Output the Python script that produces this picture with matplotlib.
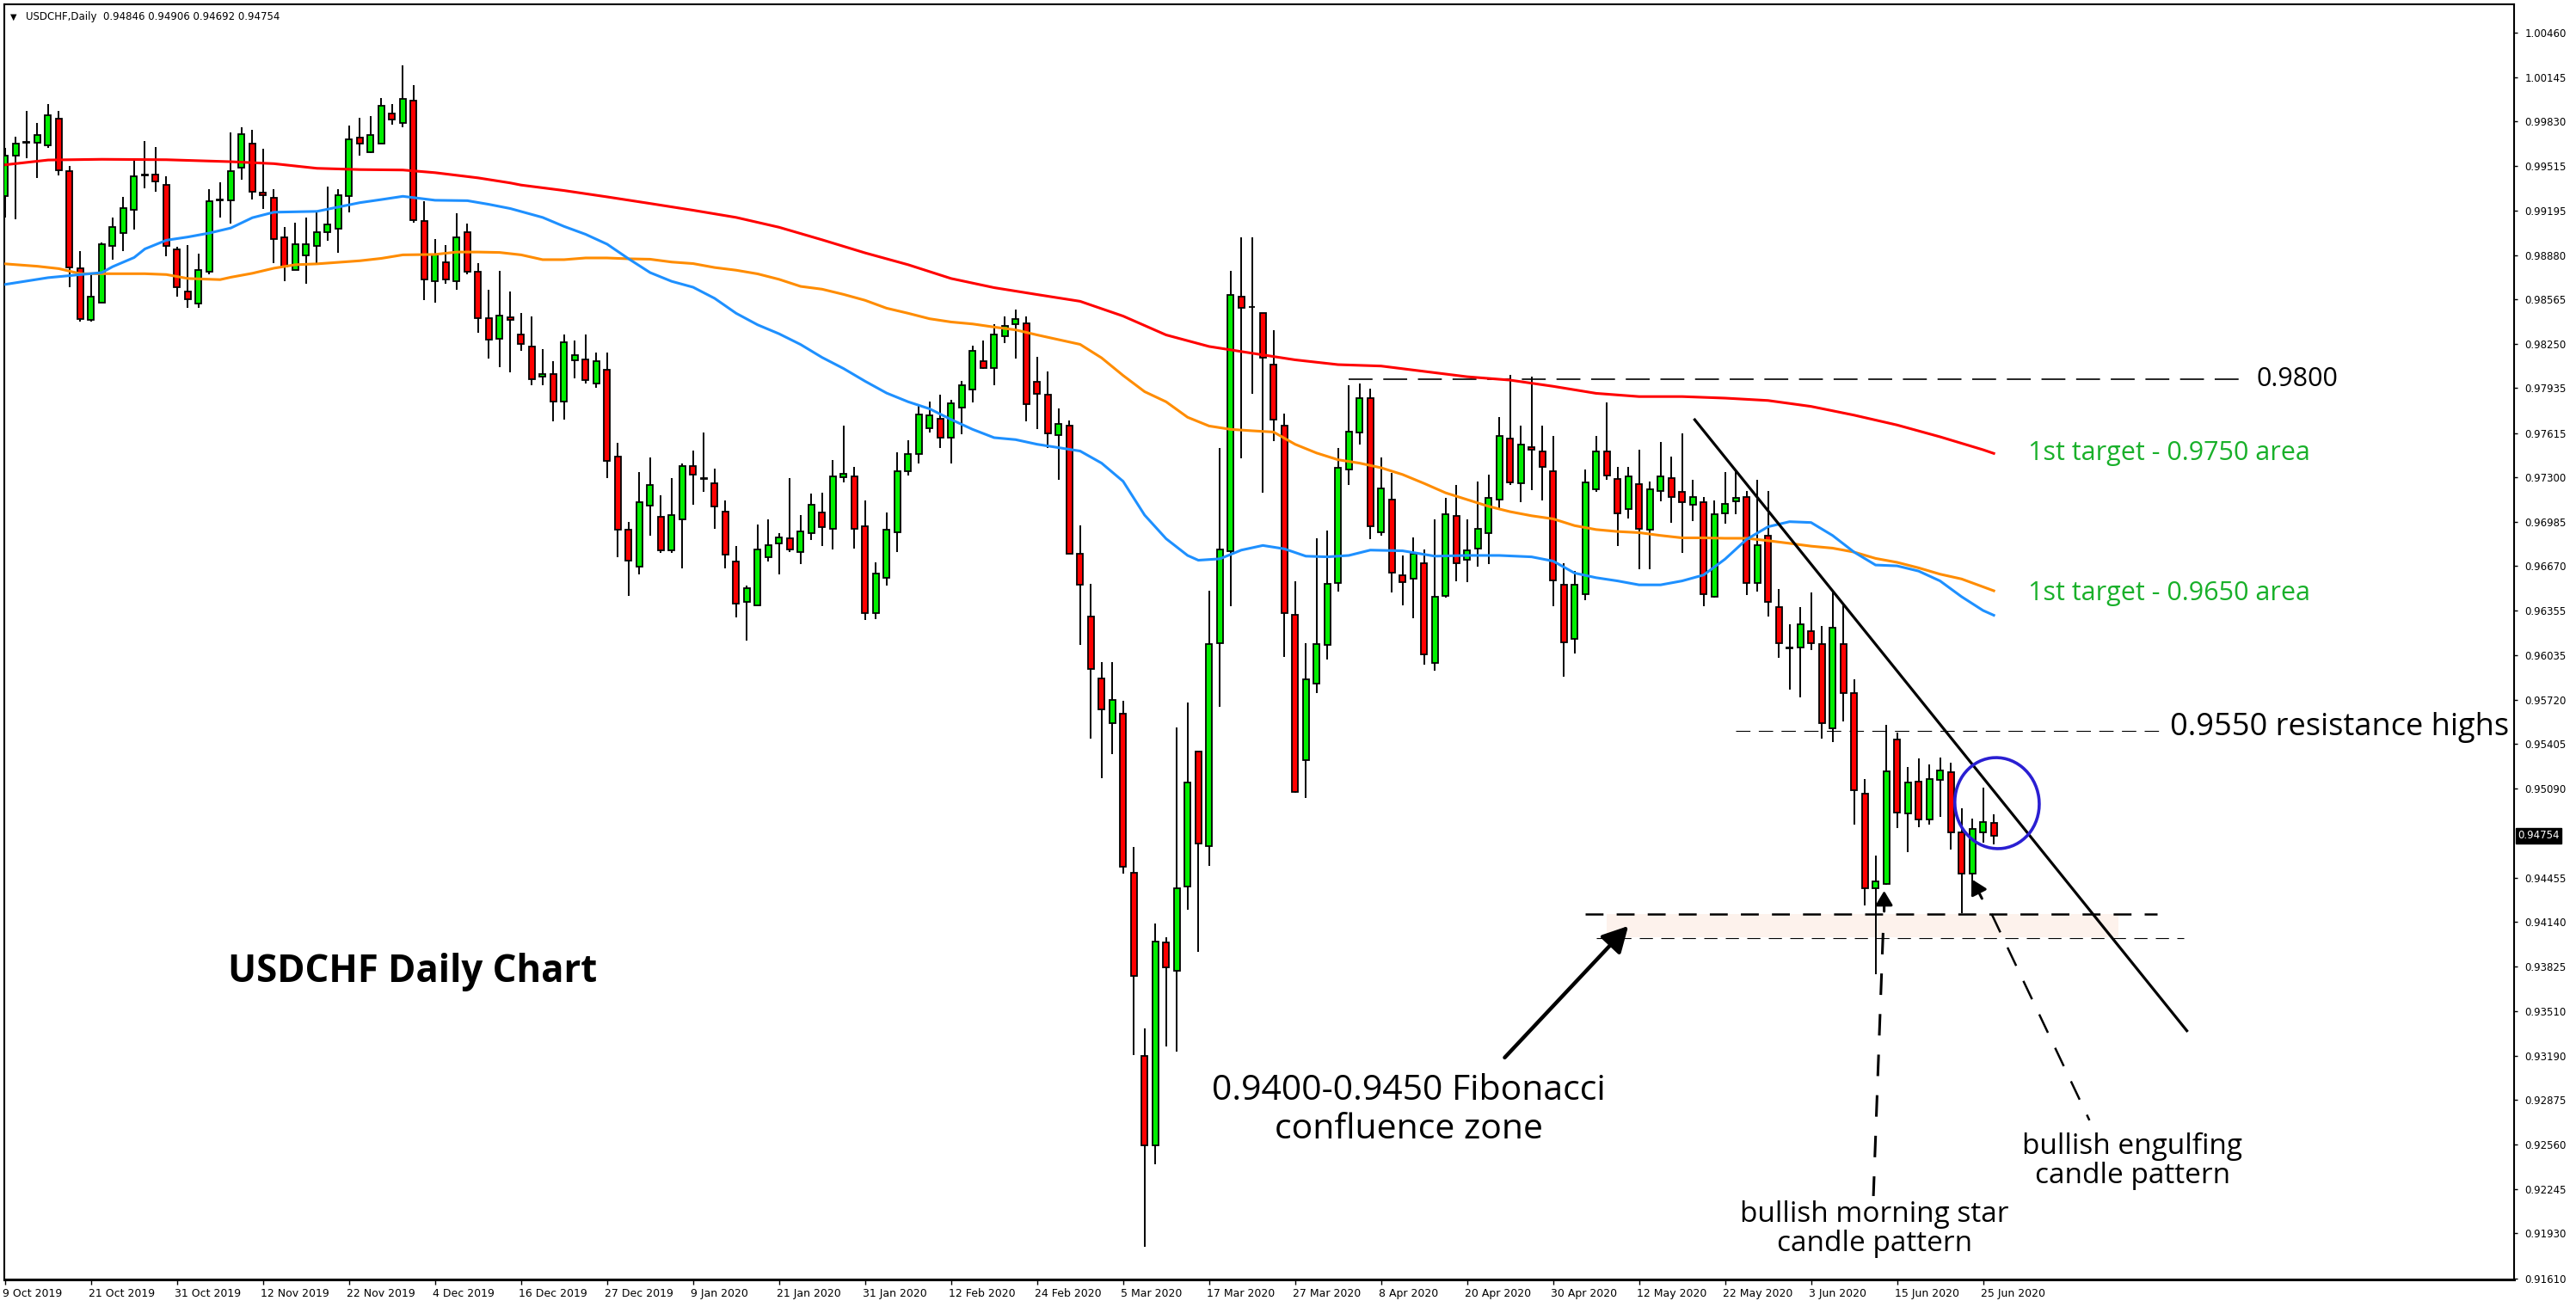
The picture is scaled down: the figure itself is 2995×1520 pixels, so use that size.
import matplotlib
matplotlib.use("Agg")
import matplotlib.pyplot as plt
from matplotlib import transforms
from matplotlib.patches import Ellipse
import numpy as np

plt.rcParams['lines.scale_dashes'] = False

# daily candles 9 Oct 2019 .. 26 Jun 2020
opens = [
    .99298, .99584, .99679, .99679, .99659, .99850, .99480, .98784, .98420, .98543,
    .98947, .99040, .99202, .99449, .99452, .99382, .98924, .98619, .98535, .98762,
    .99270, .99270, .99500, .99671, .99323, .99289, .99006, .98776, .98880, .98947,
    .99042, .99068, .99298, .99718, .99609, .99671, .99884, .99822, .99976, .99121,
    .98694, .98832, .98694, .99042, .98765, .98431, .98285, .98439, .98315, .98228,
    .98018, .98038, .97838, .98133, .98141, .97970, .98068, .97449, .96932, .96666,
    .97101, .97019, .96784, .97003, .97381, .97289, .97258, .97059, .96700, .96416,
    .96394, .96731, .96834, .96865, .96773, .96904, .97050, .96938, .97303, .97306,
    .96952, .96338, .96587, .96910, .97342, .97465, .97653, .97715, .97580, .97799,
    .97925, .98125, .98077, .98304, .98388, .98394, .97982, .97886, .97603, .97666,
    .96760, .96309, .95873, .95557, .95624, .94493, .93189, .92552, .93999, .93793,
    .94392, .95351, .94680, .96122, .96779, .98586, .98509, .98466, .98102, .97666,
    .96324, .95293, .95835, .96113, .96549, .97354, .97618, .97867, .96913, .97143,
    .96607, .96578, .96693, .95979, .96458, .97028, .96717, .96793, .96904, .97143,
    .97575, .97258, .97517, .97488, .97345, .96535, .96156, .96473, .97219, .97485,
    .97292, .97073, .97255, .96930, .97202, .97295, .97199, .97104, .97124, .96453,
    .97048, .97132, .97163, .96551, .96885, .96377, .96088, .96091, .96209, .96114,
    .95519, .96114, .95766, .95051, .94383, .94411, .95438, .94910, .95140, .94868,
    .95149, .95205, .94776, .94487, .94776, .94846]
highs = [
    .99640, .99721, .99906, .99822, .99954, .99906, .99511, .98910, .98751, .98972,
    .99146, .99295, .99550, .99693, .99648, .99443, .98941, .98953, .98888, .99348,
    .99399, .99752, .99788, .99772, .99637, .99348, .99079, .99110, .99146, .99188,
    .99368, .99348, .99802, .99856, .99870, .99996, .99954, 1.00229, 1.00086, .99261,
    .98995, .98953, .99180, .99104, .98823, .98636, .98770, .98622, .98470, .98442,
    .98212, .98125, .98315, .98276, .98315, .98186, .98186, .97544, .96986, .97336,
    .97443, .97171, .97297, .97401, .97491, .97620, .97364, .97137, .96815, .96529,
    .96966, .97003, .96904, .97297, .97036, .97188, .97193, .97423, .97670, .97376,
    .97137, .96697, .97050, .97477, .97564, .97816, .97841, .97886, .97850, .97984,
    .98237, .98273, .98391, .98444, .98492, .98442, .98158, .98054, .97790, .97704,
    .96961, .96544, .95988, .95988, .95715, .94675, .93386, .94133, .94033, .95523,
    .95701, .95351, .96496, .97512, .98768, .99008, .99008, .98466, .98346, .97752,
    .96563, .96122, .96870, .96923, .97508, .97953, .97968, .97929, .97441, .97330,
    .96746, .96875, .96789, .97004, .97158, .97244, .97000, .97273, .97321, .97728,
    .98030, .97666, .98016, .97671, .97594, .96693, .96635, .97356, .97595, .97836,
    .97376, .97376, .97497, .97272, .97553, .97449, .97614, .97286, .97160, .97138,
    .97337, .97356, .97205, .97286, .97205, .96509, .96257, .96380, .96484, .96243,
    .96490, .96408, .95864, .95157, .94616, .95544, .95485, .95244, .95306, .95261,
    .95311, .95275, .94952, .94874, .95093, .94906]
lows = [
    .99149, .99132, .99567, .99429, .99640, .99449, .98652, .98408, .98408, .98543,
    .98846, .98908, .99062, .99354, .99328, .98874, .98588, .98504, .98504, .98742,
    .99146, .99107, .99413, .99275, .99211, .98823, .98692, .98776, .98675, .98823,
    .98981, .98894, .99183, .99586, .99603, .99671, .99805, .99791, .99110, .98563,
    .98540, .98675, .98636, .98742, .98330, .98142, .98083, .98047, .98200, .97953,
    .97953, .97698, .97709, .98007, .97970, .97939, .97297, .96736, .96458, .96613,
    .96885, .96767, .96767, .96652, .97106, .97196, .96935, .96652, .96307, .96139,
    .96394, .96700, .96613, .96773, .96686, .96854, .96815, .96787, .97263, .96792,
    .96290, .96296, .96534, .96773, .97311, .97398, .97620, .97510, .97401, .97606,
    .97833, .98074, .97956, .98256, .98147, .97701, .97642, .97507, .97282, .96755,
    .96113, .95447, .95164, .95332, .94483, .93194, .91833, .92422, .93256, .93223,
    .94229, .93932, .94541, .95672, .96386, .97436, .97896, .97191, .97556, .96027,
    .95058, .95020, .95768, .96007, .96492, .97244, .97536, .96861, .96885, .96482,
    .96391, .96300, .95969, .95926, .96444, .96563, .96554, .96664, .96683, .97081,
    .97244, .97124, .97210, .97134, .96386, .95883, .96052, .96431, .97196, .97281,
    .96815, .97006, .96649, .96649, .97129, .96975, .96767, .96989, .96383, .96445,
    .96969, .97042, .96467, .96487, .96310, .96021, .95791, .95735, .96072, .95443,
    .95418, .95567, .94832, .94257, .93769, .94406, .94807, .94636, .94818, .94832,
    .94888, .94658, .94201, .94349, .94706, .94692]
closes = [
    .99584, .99671, .99679, .99732, .99873, .99483, .98790, .98425, .98582, .98955,
    .99079, .99213, .99441, .99449, .99404, .98947, .98650, .98565, .98773, .99261,
    .99270, .99480, .99738, .99331, .99306, .98992, .98798, .98955, .98955, .99042,
    .99101, .99306, .99701, .99671, .99732, .99940, .99845, .99993, .99126, .98706,
    .98885, .98706, .99006, .98762, .98431, .98277, .98448, .98420, .98248, .97998,
    .98038, .97838, .98259, .98172, .97990, .98125, .97418, .96927, .96708, .97123,
    .97244, .96784, .97031, .97381, .97320, .97289, .97092, .96753, .96402, .96515,
    .96787, .96820, .96876, .96787, .96916, .97106, .96946, .97306, .97325, .96938,
    .96338, .96616, .96932, .97342, .97465, .97746, .97743, .97580, .97830, .97953,
    .98203, .98080, .98315, .98380, .98425, .97819, .97892, .97611, .97680, .96755,
    .96535, .95940, .95653, .95720, .94536, .93755, .92552, .94004, .93822, .94383,
    .95130, .94699, .96118, .96789, .98600, .98505, .98509, .98150, .97709, .96338,
    .95068, .95868, .96118, .96544, .97369, .97627, .97862, .96952, .97225, .96626,
    .96554, .96760, .96046, .96453, .97038, .96693, .96784, .96937, .97153, .97594,
    .97263, .97532, .97498, .97373, .96568, .96127, .96540, .97267, .97485, .97317,
    .97045, .97306, .96938, .97219, .97309, .97163, .97124, .97163, .96470, .97037,
    .97112, .97154, .96551, .96818, .96417, .96122, .96088, .96254, .96122, .95556,
    .96234, .95766, .95079, .94383, .94431, .95213, .94919, .95132, .94868, .95157,
    .95219, .94776, .94487, .94801, .94849, .94754]

date_labels = ['9 Oct 2019', '21 Oct 2019', '31 Oct 2019', '12 Nov 2019', '22 Nov 2019',
               '4 Dec 2019', '16 Dec 2019', '27 Dec 2019', '9 Jan 2020', '21 Jan 2020',
               '31 Jan 2020', '12 Feb 2020', '24 Feb 2020', '5 Mar 2020', '17 Mar 2020',
               '27 Mar 2020', '8 Apr 2020', '20 Apr 2020', '30 Apr 2020', '12 May 2020',
               '22 May 2020', '3 Jun 2020', '15 Jun 2020', '25 Jun 2020']

price_ticks = [1.00460, 1.00145, 0.99830, 0.99515, 0.99195, 0.98880, 0.98565, 0.98250,
               0.97935, 0.97615, 0.97300, 0.96985, 0.96670, 0.96355, 0.96035, 0.95720,
               0.95405, 0.95090, 0.94455, 0.94140, 0.93825, 0.93510, 0.93190, 0.92875,
               0.92560, 0.92245, 0.91930, 0.91610]
last_price = 0.94754

# moving averages, read at the bar numbers listed with them
ma_red_idx = [0, 4, 9, 15, 21, 25, 29, 33, 37, 40, 44, 47, 48, 52, 56, 60, 64, 68, 72, 76,
              80, 84, 88, 92, 96, 100, 104, 108, 112, 116, 120, 124, 128, 132, 136, 140,
              144, 148, 152, 156, 160, 164, 168, 172, 176, 180, 184, 185]
ma_red = [.99522, .99556, .99561, .99558, .99544, .99530, .99497, .99488, .99485, .99466,
          .99429, .99393, .99378, .99339, .99294, .99247, .99199, .99148, .99078, .98989,
          .98896, .98812, .98714, .98649, .98600, .98552, .98447, .98313, .98231, .98183,
          .98136, .98102, .98092, .98054, .98016, .97992, .97948, .97898, .97875, .97875,
          .97864, .97847, .97805, .97743, .97673, .97589, .97497, .97471]
ma_orange_idx = [0, 3, 5, 7, 13, 15, 17, 20, 21, 23, 25, 27, 29, 31, 33, 35, 37, 40, 42, 44,
                 46, 48, 50, 52, 54, 56, 58, 60, 62, 64, 66, 68, 70, 72, 74, 76, 78, 80, 82, 84,
                 86, 88, 90, 92, 94, 96, 100, 102, 104, 106, 108, 110, 112, 114, 116, 118, 120,
                 122, 124, 126, 128, 130, 132, 134, 136, 138, 140, 142, 144, 146, 148, 150, 152,
                 154, 156, 158, 160, 162, 164, 166, 168, 170, 172, 174, 176, 178, 180, 182, 184, 185]
ma_orange = [.98818, .98801, .98784, .98748, .98748, .98742, .98714, .98706, .98723, .98751,
             .98787, .98812, .98818, .98829, .98840, .98857, .98882, .98885, .98902, .98902,
             .98899, .98882, .98848, .98848, .98860, .98860, .98854, .98851, .98831, .98820,
             .98792, .98773, .98747, .98708, .98658, .98638, .98601, .98559, .98503, .98467,
             .98428, .98405, .98391, .98369, .98349, .98313, .98246, .98150, .98025, .97910,
             .97838, .97728, .97666, .97642, .97632, .97623, .97536, .97474, .97426, .97402,
             .97369, .97321, .97258, .97191, .97143, .97095, .97057, .97028, .97006, .96958,
             .96930, .96916, .96908, .96888, .96871, .96871, .96868, .96868, .96851, .96832,
             .96812, .96798, .96770, .96725, .96697, .96658, .96613, .96579, .96523, .96495]
ma_blue_idx = [0, 4, 9, 10, 12, 13, 15, 17, 19, 21, 23, 25, 29, 31, 33, 35, 37, 40, 43, 45,
               47, 50, 52, 54, 56, 58, 60, 62, 64, 66, 68, 70, 72, 74, 76, 78, 80, 82, 84, 86,
               88, 90, 92, 94, 96, 100, 102, 104, 106, 108, 110, 111, 113, 115, 117, 119, 121,
               123, 125, 127, 130, 133, 136, 139, 142, 144, 146, 148, 150, 152, 154, 156, 158,
               160, 162, 164, 166, 168, 170, 172, 174, 176, 178, 180, 182, 184, 185]
ma_blue = [.98672, .98720, .98756, .98798, .98863, .98924, .98986, .99009, .99037, .99073,
           .99146, .99185, .99191, .99222, .99253, .99275, .99298, .99270, .99267, .99241,
           .99211, .99148, .99084, .99028, .98958, .98854, .98756, .98694, .98652, .98573,
           .98467, .98385, .98321, .98245, .98153, .98074, .97984, .97900, .97838, .97788,
           .97712, .97642, .97583, .97569, .97536, .97488, .97402, .97273, .97033, .96865,
           .96746, .96712, .96722, .96784, .96817, .96793, .96741, .96736, .96746, .96784,
           .96779, .96741, .96746, .96746, .96736, .96706, .96621, .96588, .96565, .96537,
           .96537, .96565, .96607, .96720, .96860, .96950, .96986, .96980, .96888, .96770,
           .96678, .96672, .96635, .96565, .96453, .96355, .96321]

W, H = 2995, 1520
fig = plt.figure(figsize=(W / 100, H / 100), dpi=100)
ax = fig.add_axes([4.6 / W, 32 / H, (2923 - 4.6) / W, (1488 - 5.4) / H])
ax.set_xlim(-0.11, 233.4)
ax.set_ylim(0.91601, 1.00660)

# candles
n = len(opens)
xs = np.arange(n)
o = np.array(opens)
c = np.array(closes)
body_col = ['#00ee00' if cc > oo else ('#ff0000' if cc < oo else 'black') for oo, cc in zip(o, c)]
ax.vlines(xs, lows, highs, color='black', lw=1.4, zorder=3)
ax.bar(xs, np.maximum(np.abs(c - o), 0.00005), bottom=np.minimum(o, c), width=0.56,
       color=body_col, edgecolor='black', linewidth=1.3, zorder=4)

# moving averages
ax.plot(ma_red_idx, ma_red, color='#ff0000', lw=2.2, zorder=5)
ax.plot(ma_orange_idx, ma_orange, color='#ff8c00', lw=2.2, zorder=5)
ax.plot(ma_blue_idx, ma_blue, color='#1e90ff', lw=2.2, zorder=5)

# levels
ax.axhspan(0.94032, 0.94200, xmin=(149 + 0.11) / 233.51, xmax=(196.6 + 0.11) / 233.51,
           color='#fdf2ec', zorder=1, lw=0)
ax.plot([125, 208.1], [0.9800, 0.9800], color='black', lw=1.2, dashes=(20, 9), zorder=2)
ax.plot([161, 200.5], [0.9550, 0.9550], color='black', lw=0.8, dashes=(12, 7), zorder=2)
ax.plot([147, 200.2], [0.9420, 0.9420], color='black', lw=1.8, dashes=(15, 11), zorder=2)
ax.plot([148, 202.7], [0.94025, 0.94025], color='black', lw=0.8, dashes=(11, 7), zorder=2)

# trend line
ax.plot([157.1, 203.04], [0.97718, 0.93361], color='black', lw=2.3, zorder=6,
        solid_capstyle='butt')

# circle round the last candles
circ = Ellipse((0, 0), 98, 106, angle=8, fill=False, edgecolor='#2a1fd2', lw=2.6, zorder=7,
               transform=transforms.IdentityTransform() +
               transforms.ScaledTranslation(185.3, 0.94986, ax.transData))
ax.add_patch(circ)

# pointers
ax.annotate('', xy=(151.0, 0.94113), xytext=(139.5, 0.93178),
            arrowprops=dict(arrowstyle='-|>,head_length=0.6,head_width=0.32', lw=3.2,
                            color='black', mutation_scale=30, shrinkA=0, shrinkB=0), zorder=8)
ax.annotate('', xy=(174.8, 0.94363), xytext=(174.8, 0.94217),
            arrowprops=dict(arrowstyle='-|>,head_length=0.5,head_width=0.3', lw=2.2,
                            color='black', mutation_scale=20, shrinkA=0, shrinkB=0), zorder=8)
ax.annotate('', xy=(183.0, 0.94443), xytext=(183.9, 0.94308),
            arrowprops=dict(arrowstyle='-|>,head_length=0.5,head_width=0.3', lw=2.2,
                            color='black', mutation_scale=20, shrinkA=0, shrinkB=0), zorder=8)
ax.plot([174.7, 173.8], [0.94064, 0.92194], color='black', lw=2.2, dashes=(18, 16), zorder=6)
ax.plot([184.8, 193.9], [0.94198, 0.92732], color='black', lw=1.8, dashes=(17, 14), zorder=6)

# texts
green = '#19b02a'
tf = 'Open Sans'
ax.text(209.4, 0.9800, '0.9800', fontsize=22, family=tf, va='center', ha='left')
ax.text(188.2, 0.97473, '1st target - 0.9750 area', fontsize=22, family=tf, color=green,
        va='center', ha='left')
ax.text(188.2, 0.96477, '1st target - 0.9650 area', fontsize=22, family=tf, color=green,
        va='center', ha='left')
ax.text(201.4, 0.95525, '0.9550 resistance highs', fontsize=26, family=tf, va='center', ha='left')
ax.text(20.7, 0.93783, 'USDCHF Daily Chart', fontsize=31.5, family=tf, weight='bold',
        va='center', ha='left')
ax.text(130.6, 0.92805, '0.9400-0.9450 Fibonacci\nconfluence zone', fontsize=29.5, family=tf,
        va='center', ha='center', linespacing=1.15)
ax.text(197.9, 0.92440, 'bullish engulfing\ncandle pattern', fontsize=24, family=tf,
        va='center', ha='center', linespacing=1.05)
ax.text(173.9, 0.91960, 'bullish morning star\ncandle pattern', fontsize=24, family=tf,
        va='center', ha='center', linespacing=1.05)

# MT4 style header
fig.text(12 / W, 1 - 20 / H, '\u25bc', fontsize=7, va='center', ha='left')
fig.text(30 / W, 1 - 20 / H, 'USDCHF,Daily  0.94846 0.94906 0.94692 0.94754', fontsize=8.5,
         va='center', ha='left')

# axes
for s in ax.spines.values():
    s.set_linewidth(1.5)
ax.spines['bottom'].set_linewidth(2.2)
ax.yaxis.tick_right()
ax.set_yticks(price_ticks)
ax.set_yticklabels(['%.5f' % v for v in price_ticks])
ax.tick_params(axis='y', length=3, width=1, pad=6, labelsize=8.5)
ax.set_xticks(range(0, n, 8))
ax.set_xticklabels(date_labels)
ax.tick_params(axis='x', length=4, width=1, pad=3, labelsize=9)
shift = transforms.ScaledTranslation(-2 / 72, 0, fig.dpi_scale_trans)
for lab in ax.get_xticklabels():
    lab.set_ha('left')
    lab.set_transform(lab.get_transform() + shift)

ax.text(1.0015, last_price, '%.5f' % last_price, transform=transforms.blended_transform_factory(
    ax.transAxes, ax.transData), color='white', fontsize=8.5, va='center', ha='left',
    bbox=dict(facecolor='black', edgecolor='black', pad=1.5))

fig.savefig('out.png', dpi=100)
